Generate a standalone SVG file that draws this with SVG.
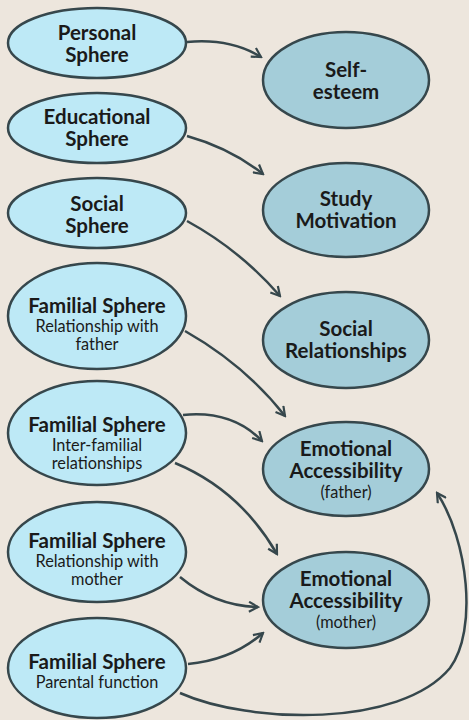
<svg xmlns="http://www.w3.org/2000/svg" width="469" height="720" viewBox="0 0 469 720">
<defs>
<style>
.bg{fill:#ede6dd}
.src{fill:#bde9f6;stroke:#36474c;stroke-width:2.5}
.dst{fill:#a4cdd9;stroke:#36474c;stroke-width:2.5}
.t{font-family:Lato,"Open Sans",sans-serif;font-weight:bold;font-size:20.5px;fill:#1a1a1a;text-anchor:middle}
.s{font-family:Lato,"Open Sans",sans-serif;font-size:16.3px;fill:#1a1a1a;text-anchor:middle}
.c{fill:none;stroke:#36474c;stroke-width:2.5;marker-end:url(#ah)}
</style>
<marker id="ah" viewBox="0 0 12 12" refX="10" refY="6" markerWidth="12" markerHeight="12" markerUnits="userSpaceOnUse" orient="auto">
<path d="M1,1 L10,6 L1,11" fill="none" stroke="#36474c" stroke-width="2.2"/>
</marker>
</defs>
<rect class="bg" x="0" y="0" width="469" height="720"/>
<g id="connectors">
<path class="c" d="M187,42 Q230,38 261,57"/>
<path class="c" d="M187,136 Q230,148 263,174"/>
<path class="c" d="M187,221 Q240,250 280,296"/>
<path class="c" d="M185,331 Q245,365 285,416"/>
<path class="c" d="M183,415 Q232,410 262,441"/>
<path class="c" d="M175,463 Q240,490 277,554"/>
<path class="c" d="M180,577 Q215,606 258,607"/>
<path class="c" d="M188,664 Q232,660 263,633"/>
<path class="c" d="M180,693 C250,724 400,728 450,668 C478,630 468,540 437,493"/>
</g>
<g id="personal"><ellipse class="src" cx="97" cy="43" rx="89" ry="35"/><text class="t" x="97" y="40">Personal</text><text class="t" x="97" y="62">Sphere</text></g>
<g id="educational"><ellipse class="src" cx="97" cy="128" rx="89" ry="35"/><text class="t" x="97" y="124">Educational</text><text class="t" x="97" y="146">Sphere</text></g>
<g id="social"><ellipse class="src" cx="97" cy="213" rx="89" ry="35"/><text class="t" x="97" y="211">Social</text><text class="t" x="97" y="233">Sphere</text></g>
<g id="fam-father"><ellipse class="src" cx="97" cy="316" rx="89" ry="53"/><text class="t" x="97" y="313">Familial Sphere</text><text class="s" x="97" y="332">Relationship with</text><text class="s" x="97" y="350">father</text></g>
<g id="fam-inter"><ellipse class="src" cx="97" cy="433" rx="89" ry="52"/><text class="t" x="97" y="432">Familial Sphere</text><text class="s" x="97" y="451">Inter-familial</text><text class="s" x="97" y="469">relationships</text></g>
<g id="fam-mother"><ellipse class="src" cx="97" cy="552" rx="89" ry="50"/><text class="t" x="97" y="548">Familial Sphere</text><text class="s" x="97" y="567">Relationship with</text><text class="s" x="97" y="585">mother</text></g>
<g id="fam-parental"><ellipse class="src" cx="97" cy="668" rx="89" ry="50"/><text class="t" x="97" y="669">Familial Sphere</text><text class="s" x="97" y="688">Parental function</text></g>
<g id="self-esteem"><ellipse class="dst" cx="346" cy="80" rx="83" ry="48"/><text class="t" x="346" y="77">Self-</text><text class="t" x="346" y="99">esteem</text></g>
<g id="study"><ellipse class="dst" cx="346" cy="210" rx="83" ry="47"/><text class="t" x="346" y="206">Study</text><text class="t" x="346" y="228">Motivation</text></g>
<g id="social-rel"><ellipse class="dst" cx="346" cy="340" rx="83" ry="48"/><text class="t" x="346" y="336">Social</text><text class="t" x="346" y="358">Relationships</text></g>
<g id="ea-father"><ellipse class="dst" cx="346" cy="469" rx="83" ry="47"/><text class="t" x="346" y="456">Emotional</text><text class="t" x="346" y="478">Accessibility</text><text class="s" x="346" y="498">(father)</text></g>
<g id="ea-mother"><ellipse class="dst" cx="346" cy="600" rx="83" ry="48"/><text class="t" x="346" y="586">Emotional</text><text class="t" x="346" y="608">Accessibility</text><text class="s" x="346" y="628">(mother)</text></g>
</svg>
